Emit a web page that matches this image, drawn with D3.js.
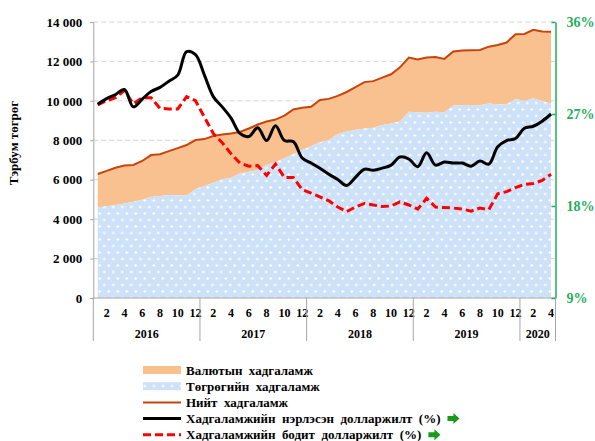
<!DOCTYPE html>
<html>
<head>
<meta charset="utf-8">
<script src="https://cdn.jsdelivr.net/npm/d3@7"></script>
<style>
  body { margin: 0; background: #fff; }
  text { font-family: "Liberation Serif", "Times New Roman", serif; font-weight: bold; }
</style>
</head>
<body>
<div id="my_dataviz"></div>
<script>
// months Jan 2016 .. Apr 2020
var years = ["2016", "2017", "2018", "2019", "2020"];
var monthsPerYear = [12, 12, 12, 12, 4];
var monthTicks = ["2", "4", "6", "8", "10", "12"];

// total deposits, bln MNT
var totalDeposits = [6290, 6450, 6610, 6720, 6750, 6950, 7250, 7290, 7450, 7600, 7760, 8010,
  8060, 8220, 8290, 8350, 8420, 8600, 8800, 8950, 9050, 9250, 9560, 9650,
  9700, 10040, 10100, 10250, 10450, 10700, 10950, 11000, 11180, 11350, 11700, 12200,
  12100, 12200, 12220, 12130, 12500, 12560, 12570, 12580, 12750, 12830, 12960, 13380,
  13390, 13600, 13520, 13500];

// MNT deposits, bln MNT
var mntDeposits = [4600, 4660, 4720, 4790, 4880, 4980, 5120, 5170, 5220, 5210, 5200, 5530,
  5680, 5850, 6020, 6100, 6320, 6400, 6500, 6750, 6900, 7090, 7300, 7510,
  7700, 7900, 8010, 8300, 8450, 8520, 8600, 8640, 8770, 8850, 8950, 9450,
  9420, 9400, 9450, 9420, 9760, 9780, 9790, 9780, 9870, 9820, 9830, 10090,
  9990, 10130, 9990, 9870];

// dollarization, %
var nominalRate = [27.95, 28.5, 28.9, 29.4, 27.7, 28.45, 29.2, 29.6, 30.2, 30.8, 33.1, 32.8,
  30.8, 28.7, 27.7, 26.6, 25.1, 24.8, 25.66, 24.4, 25.85, 24.4, 24.3, 22.7,
  22.2, 21.7, 21.1, 20.6, 20.0, 20.8, 21.6, 21.5, 21.7, 22.0, 22.8, 22.6,
  21.85, 23.2, 22.0, 22.3, 22.2, 22.2, 21.9, 22.4, 22.1, 23.8, 24.4, 24.6,
  25.6, 25.8, 26.3, 27.0];

var realRate = [27.9, 28.3, 28.6, 29.3, 28.0, 28.6, 28.6, 27.55, 27.5, 27.5, 28.7, 28.3,
  26.7, 25.1, 24.2, 23.1, 22.2, 21.9, 21.95, 21.0, 22.1, 20.8, 20.8, 19.6,
  19.25, 18.9, 18.5, 17.9, 17.45, 17.9, 18.25, 18.1, 17.95, 18.0, 18.4, 18.1,
  17.7, 18.75, 17.9, 17.85, 17.8, 17.7, 17.5, 17.8, 17.65, 19.2, 19.4, 19.8,
  20.1, 20.2, 20.5, 21.1];

var leftTicks = [0, 2000, 4000, 6000, 8000, 10000, 12000, 14000];
var rightTicks = [9, 18, 27, 36];

var legendLabels = ["Валютын  хадгаламж", "Төгрөгийн  хадгаламж", "Нийт  хадгаламж",
  "Хадгаламжийн  нэрлэсэн  долларжилт  (%)", "Хадгаламжийн  бодит  долларжилт  (%)"];

var green = "#1fae5a";

// set the dimensions and margins of the graph
var margin = {top: 22, right: 39.5, bottom: 143, left: 93.3},
  width = 595 - margin.left - margin.right,
  height = 441 - margin.top - margin.bottom;

var svg = d3.select("#my_dataviz")
  .append("svg")
    .attr("width", 595)
    .attr("height", 441);

var defs = svg.append("defs");
var pat = defs.append("pattern")
  .attr("id", "mntPattern")
  .attr("patternUnits", "userSpaceOnUse")
  .attr("width", 9)
  .attr("height", 13);
pat.append("rect").attr("width", 9).attr("height", 13).attr("fill", "#cde1f8");
[[2, 3], [6.5, 9.5]].forEach(function(p) {
  pat.append("path")
    .attr("d", "M" + (p[0] - 1.5) + "," + p[1] + "h3M" + p[0] + "," + (p[1] - 1.5) + "v3")
    .attr("stroke", "#fff")
    .attr("stroke-width", 1);
});

var g = svg.append("g")
  .attr("transform", "translate(" + margin.left + "," + margin.top + ")");

// months as categories
var months = d3.range(totalDeposits.length);
var x = d3.scaleBand().domain(months).range([0, width]);
var cx = function(i) { return x(i) + x.bandwidth() / 2; };

var y = d3.scaleLinear().domain([0, 14000]).range([height, 0]);
var y2 = d3.scaleLinear().domain([9, 36]).range([height, 0]);

// gridlines
g.append("g")
  .selectAll("line")
  .data(leftTicks.filter(function(d) { return d > 0; }))
  .join("line")
    .attr("x1", 0).attr("x2", width)
    .attr("y1", function(d) { return y(d); })
    .attr("y2", function(d) { return y(d); })
    .attr("stroke", "#d3d3d3")
    .attr("stroke-dasharray", "5,3");

// areas
g.append("path")
  .datum(months)
  .attr("fill", "#f9c18f")
  .attr("d", d3.area()
    .x(function(i) { return cx(i); })
    .y0(function(i) { return y(mntDeposits[i]); })
    .y1(function(i) { return y(totalDeposits[i]); }));

g.append("path")
  .datum(months)
  .attr("fill", "url(#mntPattern)")
  .attr("d", d3.area()
    .x(function(i) { return cx(i); })
    .y0(y(0))
    .y1(function(i) { return y(mntDeposits[i]); }));

g.append("path")
  .datum(months)
  .attr("fill", "none")
  .attr("stroke", "#c9430c")
  .attr("stroke-width", 2)
  .attr("d", d3.line()
    .x(function(i) { return cx(i); })
    .y(function(i) { return y(totalDeposits[i]); }));

// dollarization lines
g.append("path")
  .datum(months)
  .attr("fill", "none")
  .attr("stroke", "#ff0000")
  .attr("stroke-width", 3)
  .attr("stroke-dasharray", "8,4")
  .attr("d", d3.line()
    .x(function(i) { return cx(i); })
    .y(function(i) { return y2(realRate[i]); }));

g.append("path")
  .datum(months)
  .attr("fill", "none")
  .attr("stroke", "#000")
  .attr("stroke-width", 3)
  .attr("d", d3.line()
    .curve(d3.curveCatmullRom.alpha(0.5))
    .x(function(i) { return cx(i); })
    .y(function(i) { return y2(nominalRate[i]); }));

// left axis
var yAxis = g.append("g")
  .call(d3.axisLeft(y).tickValues(leftTicks).tickSize(3).tickPadding(8)
    .tickFormat(function(d) { return d3.format(",")(d).replace(",", " "); }));
yAxis.select(".domain").attr("stroke", "#a6a6a6");
yAxis.selectAll(".tick line").attr("stroke", "#a6a6a6");
yAxis.selectAll("text").style("font-size", "13px").attr("fill", "#000");

// bottom axis line
g.append("line")
  .attr("x1", 0).attr("x2", width)
  .attr("y1", height).attr("y2", height)
  .attr("stroke", "#a6a6a6");

// right axis
var yAxis2 = g.append("g")
  .attr("transform", "translate(" + width + ",0)")
  .call(d3.axisRight(y2).tickValues(rightTicks).tickSizeInner(-4).tickSizeOuter(0).tickPadding(11)
    .tickFormat(function(d) { return d + "%"; }));
yAxis2.select(".domain").attr("stroke", green).attr("stroke-width", 1.5);
yAxis2.selectAll(".tick line").attr("stroke", green).attr("stroke-width", 1.5);
yAxis2.selectAll("text").style("font-size", "14px").attr("fill", green);

// month tick labels and year groups
var start = 0;
years.forEach(function(yr, k) {
  var n = monthsPerYear[k];
  for (var m = 2; m <= n; m += 2) {
    g.append("text")
      .attr("x", cx(start + m - 1))
      .attr("y", height + 19)
      .attr("text-anchor", "middle")
      .style("font-size", "12px")
      .text(monthTicks[m / 2 - 1]);
  }
  g.append("text")
    .attr("x", (x(start) + x(start + n - 1) + x.bandwidth()) / 2)
    .attr("y", height + 40)
    .attr("text-anchor", "middle")
    .style("font-size", "12px")
    .text(yr);
  start += n;
});
var bounds = [0];
monthsPerYear.reduce(function(a, n) { bounds.push(a + n); return a + n; }, 0);
g.append("g")
  .selectAll("line")
  .data(bounds)
  .join("line")
    .attr("x1", function(b) { return b < months.length ? x(b) : width; })
    .attr("x2", function(b) { return b < months.length ? x(b) : width; })
    .attr("y1", height).attr("y2", height + 43)
    .attr("stroke", "#a6a6a6");

// y axis title
svg.append("text")
  .attr("transform", "translate(18,143) rotate(-90)")
  .attr("text-anchor", "middle")
  .style("font-size", "13px")
  .text("Тэрбум төгрөг");

// legend
var leg = svg.append("g").attr("transform", "translate(143,370)");
var rowH = 16.2;
leg.append("rect").attr("x", 0).attr("y", -4).attr("width", 38).attr("height", 8).attr("fill", "#f9c18f");
leg.append("rect").attr("x", 0).attr("y", rowH - 4).attr("width", 38).attr("height", 8).attr("fill", "url(#mntPattern)");
leg.append("line").attr("x1", 0).attr("x2", 38).attr("y1", rowH * 2).attr("y2", rowH * 2)
  .attr("stroke", "#c9430c").attr("stroke-width", 2);
leg.append("line").attr("x1", 0).attr("x2", 38).attr("y1", rowH * 3).attr("y2", rowH * 3)
  .attr("stroke", "#000").attr("stroke-width", 3);
leg.append("line").attr("x1", 0).attr("x2", 38).attr("y1", rowH * 4).attr("y2", rowH * 4)
  .attr("stroke", "#ff0000").attr("stroke-width", 3).attr("stroke-dasharray", "8,4");

legendLabels.forEach(function(t, i) {
  var txt = leg.append("text")
    .attr("x", 43)
    .attr("y", rowH * i + 4.5)
    .attr("xml:space", "preserve")
    .style("font-size", "13px")
    .style("white-space", "pre")
    .text(t);
  if (i >= 3) {
    var w = txt.node().getComputedTextLength();
    leg.append("path")
      .attr("transform", "translate(" + (43 + w + 7) + "," + (rowH * i) + ")")
      .attr("d", "M0,-2.5H6V-5.5L12,0L6,5.5V2.5H0Z")
      .attr("fill", "#1a9a1a");
  }
});
</script>
</body>
</html>
